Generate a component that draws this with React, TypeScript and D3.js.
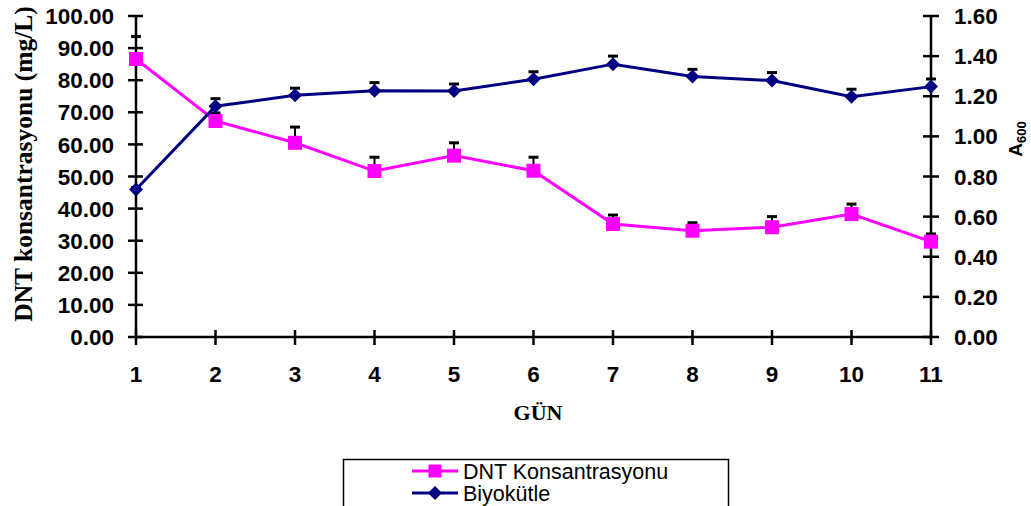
import React from "react";
import * as d3 from "d3";

// Days of the experiment
const days = [1, 2, 3, 4, 5, 6, 7, 8, 9, 10, 11];
// DNT concentration (mg/L) and its error
const dnt = [86.6, 67.3, 60.5, 51.7, 56.5, 51.8, 35.2, 33.1, 34.2, 38.3, 29.7];
const dntErr = [7.0, 2.5, 4.9, 4.3, 4.0, 4.2, 2.8, 2.5, 3.3, 3.1, 2.4];
// Biomass (A600) and its error
const bio = [0.735, 1.15, 1.205, 1.228, 1.226, 1.285, 1.36, 1.298, 1.278, 1.198, 1.248];
const bioErr = [0.01, 0.038, 0.035, 0.04, 0.035, 0.037, 0.04, 0.036, 0.04, 0.037, 0.038];

const leftTicks = [0, 10, 20, 30, 40, 50, 60, 70, 80, 90, 100];
const rightTicks = [0, 0.2, 0.4, 0.6, 0.8, 1.0, 1.2, 1.4, 1.6];

const W = 1031;
const H = 506;
const PINK = "#FF00FF";
const NAVY = "#000080";
const SANS = "'Liberation Sans', Arial, sans-serif";
const SERIF = "'Liberation Serif', 'Times New Roman', serif";

export default function App() {
  const x = d3.scaleLinear().domain([1, 11]).range([136, 931]);
  const yL = d3.scaleLinear().domain([0, 100]).range([337, 16]);
  const yR = d3.scaleLinear().domain([0, 1.6]).range([337, 16]);

  const dntLine = d3
    .line<number>()
    .x((_, i) => x(days[i]))
    .y((v) => yL(v))(dnt) as string;
  const bioLine = d3
    .line<number>()
    .x((_, i) => x(days[i]))
    .y((v) => yR(v))(bio) as string;

  const errBar = (cx: number, y0: number, y1: number, key: string) => (
    <g key={key}>
      <line x1={cx} x2={cx} y1={y0} y2={y1} stroke="#000" strokeWidth={2} />
      <line x1={cx - 5} x2={cx + 5} y1={y1} y2={y1} stroke="#000" strokeWidth={3} />
    </g>
  );

  const square = (cx: number, cy: number, s: number, key?: string) => (
    <rect key={key} x={cx - s / 2} y={cy - s / 2} width={s} height={s} fill={PINK} />
  );
  const diamond = (cx: number, cy: number, r: number, key?: string) => (
    <path
      key={key}
      d={`M${cx},${cy - r}L${cx + r},${cy}L${cx},${cy + r}L${cx - r},${cy}Z`}
      fill={NAVY}
    />
  );

  return (
    <svg
      width={W}
      height={H}
      style={{ position: "absolute", left: 0, top: 0, background: "#fff" }}
    >
      <rect width={W} height={H} fill="#fff" />

      {/* axes */}
      <g stroke="#000" strokeWidth={2.5}>
        <line x1={136} x2={136} y1={16} y2={337} />
        <line x1={931} x2={931} y1={16} y2={337} />
        <line x1={136} x2={931} y1={337} y2={337} />
        {leftTicks.map((t) => (
          <line key={"lt" + t} x1={128} x2={143} y1={yL(t)} y2={yL(t)} />
        ))}
        {rightTicks.map((t) => (
          <line key={"rt" + t} x1={923} x2={939} y1={yR(t)} y2={yR(t)} />
        ))}
        {days.map((d) => (
          <line key={"xt" + d} x1={x(d)} x2={x(d)} y1={330} y2={345} />
        ))}
      </g>

      {/* tick labels */}
      <g fontFamily={SANS} fontWeight="bold" fontSize={22.5} fill="#000">
        {leftTicks.map((t) => (
          <text key={"ll" + t} x={114} y={yL(t)} dy="0.36em" textAnchor="end">
            {t.toFixed(2)}
          </text>
        ))}
        {rightTicks.map((t) => (
          <text key={"rl" + t} x={954} y={yR(t)} dy="0.36em" textAnchor="start">
            {t.toFixed(2)}
          </text>
        ))}
        {days.map((d) => (
          <text key={"xl" + d} x={x(d)} y={382} textAnchor="middle">
            {d}
          </text>
        ))}
      </g>

      {/* axis titles */}
      <text
        transform="translate(32,164) rotate(-90)"
        textAnchor="middle"
        fontFamily={SERIF}
        fontWeight="bold"
        fontSize={25.5}
      >
        DNT konsantrasyonu (mg/L)
      </text>
      <text
        x={538}
        y={420}
        textAnchor="middle"
        fontFamily={SERIF}
        fontWeight="bold"
        fontSize={22}
      >
        GÜN
      </text>
      <text
        transform="translate(1022,139) rotate(-90)"
        textAnchor="middle"
        fontFamily={SANS}
        fontWeight="bold"
        fontSize={19}
      >
        A<tspan fontSize={13} dy={4}>600</tspan>
      </text>

      {/* DNT series */}
      {dnt.map((v, i) => errBar(x(days[i]), yL(v), yL(v + dntErr[i]), "de" + i))}
      <path d={dntLine} fill="none" stroke={PINK} strokeWidth={3} />
      {dnt.map((v, i) => square(x(days[i]), yL(v), 14, "ds" + i))}

      {/* biomass series */}
      {bio.map((v, i) => errBar(x(days[i]), yR(v), yR(v + bioErr[i]), "be" + i))}
      <path d={bioLine} fill="none" stroke={NAVY} strokeWidth={3} />
      {bio.map((v, i) => diamond(x(days[i]), yR(v), 7, "bd" + i))}

      {/* legend */}
      <rect x={343.5} y={459.5} width={385} height={60} fill="#fff" stroke="#000" strokeWidth={1.5} />
      <line x1={412} x2={458} y1={471} y2={471} stroke={PINK} strokeWidth={3} />
      {square(435, 471, 13)}
      <line x1={412} x2={458} y1={493} y2={493} stroke={NAVY} strokeWidth={3} />
      {diamond(435, 493, 7)}
      <g fontFamily={SANS} fontSize={21.5} fill="#000">
        <text x={463} y={479}>DNT Konsantrasyonu</text>
        <text x={463} y={501}>Biyokütle</text>
      </g>
    </svg>
  );
}
